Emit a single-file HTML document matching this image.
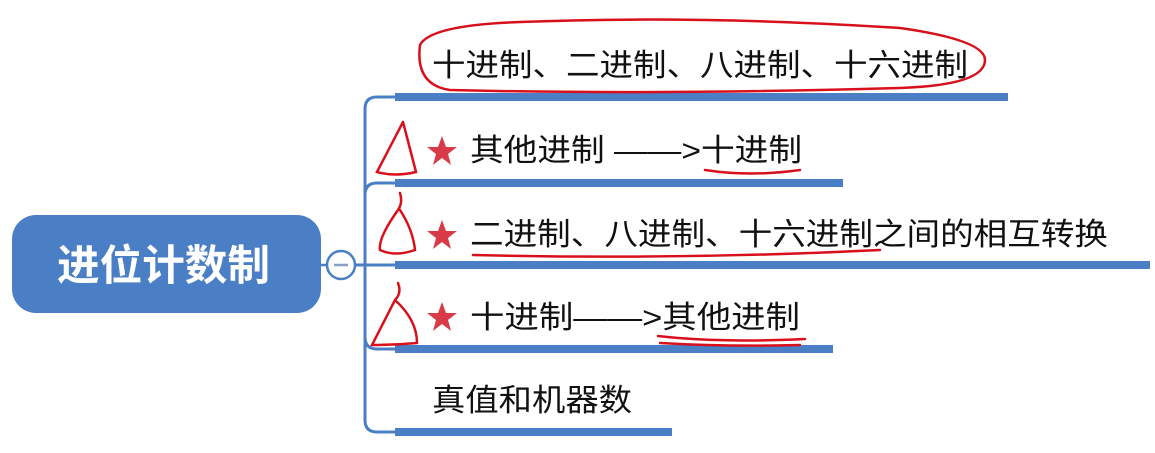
<!DOCTYPE html>
<html><head><meta charset="utf-8"><style>
html,body{margin:0;padding:0;background:#fff;width:1155px;height:453px;overflow:hidden}
text{font-family:"Liberation Sans","Noto Sans CJK SC",sans-serif}
</style></head><body>
<svg width="1155" height="453" viewBox="0 0 1155 453" xmlns="http://www.w3.org/2000/svg">
<rect x="12" y="215" width="309" height="98" rx="24" fill="#4a7fc6"/>
<text x="57" y="280" font-size="42" font-weight="bold" fill="#fff" textLength="213" lengthAdjust="spacingAndGlyphs">进位计数制</text>
<line x1="321" y1="265" x2="327" y2="265" stroke="#4a7fc6" stroke-width="2.5"/>
<circle cx="341" cy="265" r="14" fill="#fff" stroke="#4a7fc6" stroke-width="2.5"/>
<line x1="334" y1="265" x2="348" y2="265" stroke="#8aa0c0" stroke-width="2.5"/>
<g fill="none" stroke="#4a7fc6" stroke-width="3">
<path d="M355 265 H395"/>
<path d="M395 97 H377 Q365 97 365 109 V420 Q365 432 377 432 H395"/>
<path d="M395 183 H377 Q365 183 365 195"/>
<path d="M395 349 H377 Q365 349 365 337"/>
</g>
<g fill="#4a7fc6">
<rect x="395" y="93" width="613" height="8"/>
<rect x="395" y="179" width="448" height="8"/>
<rect x="395" y="261" width="755" height="8"/>
<rect x="395" y="345" width="438" height="8"/>
<rect x="395" y="428" width="277" height="8"/>
</g>
<g font-size="31" fill="#111" lengthAdjust="spacingAndGlyphs">
<text x="432" y="76" textLength="536" lengthAdjust="spacingAndGlyphs">十进制、二进制、八进制、十六进制</text>
<text x="470" y="161" textLength="332" lengthAdjust="spacingAndGlyphs">其他进制 ——&gt;十进制</text>
<text x="470" y="245" textLength="638" lengthAdjust="spacingAndGlyphs">二进制、八进制、十六进制之间的相互转换</text>
<text x="470" y="328" textLength="330" lengthAdjust="spacingAndGlyphs">十进制——&gt;其他进制</text>
<text x="432" y="411" textLength="200" lengthAdjust="spacingAndGlyphs">真值和机器数</text>
</g>
<g fill="#d83a48">
<polygon points="442,136 446,147 457,147 448,154 451,165 442,158 433,165 436,154 427,147 438,147"/>
<polygon points="442,220 446,231 457,231 448,238 451,249 442,242 433,249 436,238 427,231 438,231"/>
<polygon points="442,302 446,313 457,313 448,320 451,331 442,324 433,331 436,320 427,313 438,313"/>
</g>
<g fill="none" stroke="#d8101c" stroke-width="2.5" stroke-linecap="round">
<path d="M420 45 Q430 25 520 22 Q700 15 900 28 Q985 40 985 60 Q985 85 900 88 Q650 95 450 90 Q415 85 420 45Z"/>
<path d="M403 122 L377 172 Q395 177 416 172 L403 122"/>
<path d="M400 193 Q403 203 398 210 Q378 238 380 250 Q395 257 415 250 Q413 230 400 210"/>
<path d="M398 283 Q402 293 395 300 L372 345 Q395 345 417 343 Q417 320 395 300"/>
<path d="M705 170 Q750 177 800 170"/>
<path d="M473 255 Q680 260 880 250"/>
<path d="M658 336 Q720 343 805 339"/>
<path d="M660 343 Q730 347 800 345"/>
</g>
</svg>
</body></html>
